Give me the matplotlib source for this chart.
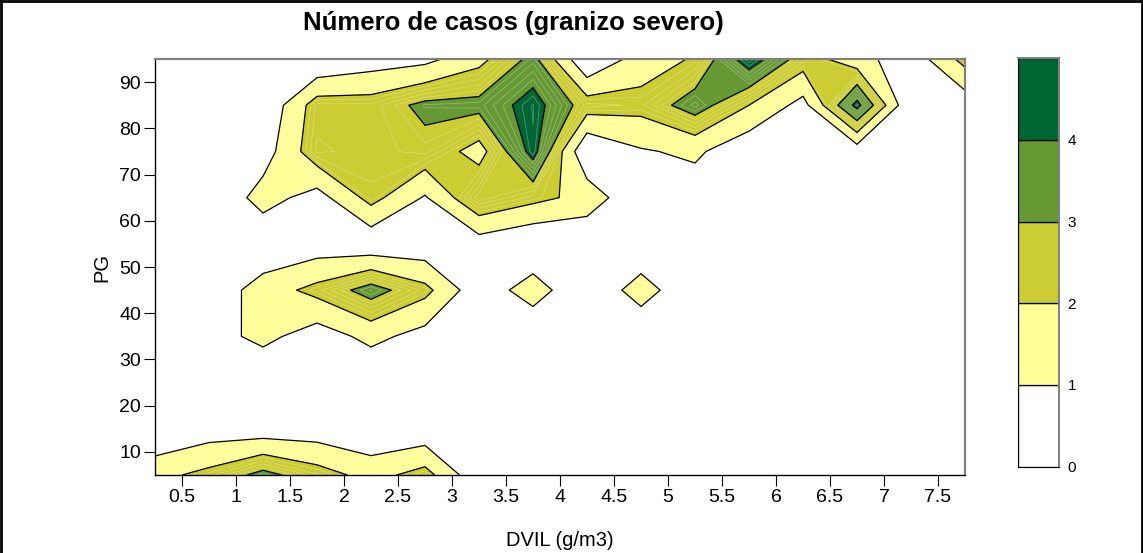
import numpy as np
import matplotlib
matplotlib.use('Agg')
import matplotlib.pyplot as plt
from matplotlib.lines import Line2D

plt.rcParams['font.family'] = ['Liberation Sans', 'DejaVu Sans']

# grid centres
dvil = [0.25, 0.75, 1.25, 1.75, 2.25, 2.75, 3.25, 3.75,
        4.25, 4.75, 5.25, 5.75, 6.25, 6.75, 7.25, 7.75]
pg = [5, 15, 25, 35, 45, 55, 65, 75, 85, 95]

# smoothed number of cases, one list per PG row
casos_pg05 = [1.7, 2.3, 3.3, 2.45, 1.65, 2.39, 0.22, 0, 0, 0, 0, 0, 0, 0, 0, 0]
casos_pg15 = [0, 0.45, 0.4, 0.41, 0.1, 0.22, 0, 0, 0, 0, 0, 0, 0, 0, 0, 0]
casos_pg25 = [0, 0, 0, 0, 0, 0, 0, 0, 0, 0, 0, 0, 0, 0, 0, 0]
casos_pg35 = [0, 0.55, 1.3, 0.47, 1.3, 0.61, 0, 0, 0, 0, 0, 0, 0, 0, 0, 0]
casos_pg45 = [0, 0.26, 1.49, 2.31, 3.42, 2.3, 0.3, 1.55, 0, 1.55, 0, 0, 0, 0, 0, 0]
casos_pg55 = [0, 0, 0.13, 0.41, 0.22, 0.27, 0.5, 0, 0, 0, 0, 0, 0, 0, 0, 0]
casos_pg65 = [0, 0, 1.43, 0.57, 2.35, 0.9, 2.95, 2.3, 1.68, 0, 0.4, 0, 0, 0, 0, 0]
casos_pg75 = [0, 0, 0.5, 2.65, 2.5, 2.7, 1.6, 4.36, 0, 0.9, 1.2, 0.22, 0, 0.4, 0, 0]
casos_pg85 = [0, 0, 0.1, 2.48, 2.46, 3.23, 3.3, 4.43, 2.5, 2.35, 3.5, 2.0, 0.64, 4.3, 0, 0.36]
casos_pg95 = [0, 0, 0, 0, 0.46, 0.7, 1.7, 3.3, 0, 1.48, 2.1, 4.6, 2.5, 1.4, 0.36, 2.36]

niveles = [0, 1, 2, 3, 4, 5]
colores = ['#ffffff', '#ffff99', '#cccc33', '#669933', '#006633']
xticks = [0.5, 1, 1.5, 2, 2.5, 3, 3.5, 4, 4.5, 5, 5.5, 6, 6.5, 7, 7.5]
yticks = [10, 20, 30, 40, 50, 60, 70, 80, 90]

Z = np.array([casos_pg05, casos_pg15, casos_pg25, casos_pg35, casos_pg45,
              casos_pg55, casos_pg65, casos_pg75, casos_pg85, casos_pg95])
X, Y = np.meshgrid(dvil, pg)

fig = plt.figure(figsize=(11.43, 5.53), dpi=100)
ax = fig.add_axes([0.1356, 0.141, 0.7087, 0.7523])

ax.contourf(X, Y, Z, levels=niveles, colors=colores)
finos = [v for v in np.arange(0.2, 5, 0.2) if abs(v - round(v)) > 0.05]
ax.contour(X, Y, Z, levels=finos, colors='white', linewidths=0.5, alpha=0.35)
ax.contour(X, Y, Z, levels=niveles[1:-1], colors='black', linewidths=0.9)

ax.set_xlim(0.25, 7.75)
ax.set_ylim(5, 95)
ax.set_xticks(xticks)
ax.set_xticklabels([f'{v:g}' for v in xticks])
ax.set_yticks(yticks)
ax.tick_params(direction='out', length=8, width=0.8, labelsize=14, pad=2)
for lado in ['left', 'bottom']:
    ax.spines[lado].set_color('black')
    ax.spines[lado].set_linewidth(1.0)
for lado in ['top', 'right']:
    ax.spines[lado].set_color('#808080')
    ax.spines[lado].set_linewidth(1.6)

ax.set_xlabel('DVIL (g/m3)', fontsize=14.5, labelpad=18)
ax.set_ylabel('PG', fontsize=14.5, labelpad=6)
fig.text(0.449, 0.958, 'Número de casos (granizo severo)', fontsize=18.5,
         fontweight='bold', ha='center', va='center')

# colour key
cax = fig.add_axes([0.8909, 0.1561, 0.0359, 0.7385])
for i, c in enumerate(colores):
    cax.bar(0.5, niveles[i + 1] - niveles[i], bottom=niveles[i], width=1.0,
            color=c, edgecolor='black', linewidth=0.9)
cax.set_xlim(0, 1)
cax.set_ylim(0, 5)
cax.set_xticks([])
cax.yaxis.tick_right()
cax.set_yticks(niveles[:-1])
cax.tick_params(axis='y', length=0, labelsize=11, pad=6)
for lado in ['left', 'bottom']:
    cax.spines[lado].set_color('black')
for lado in ['top', 'right']:
    cax.spines[lado].set_color('#808080')
    cax.spines[lado].set_linewidth(1.4)

# outer frame
for xs, ys in [([0.001, 0.001], [0, 1]), ([0, 1], [0.998, 0.998]),
               ([0.999, 0.999], [0, 1])]:
    fig.add_artist(Line2D(xs, ys, transform=fig.transFigure, color='black',
                          linewidth=2.0))

fig.savefig('out.png', dpi=100)
